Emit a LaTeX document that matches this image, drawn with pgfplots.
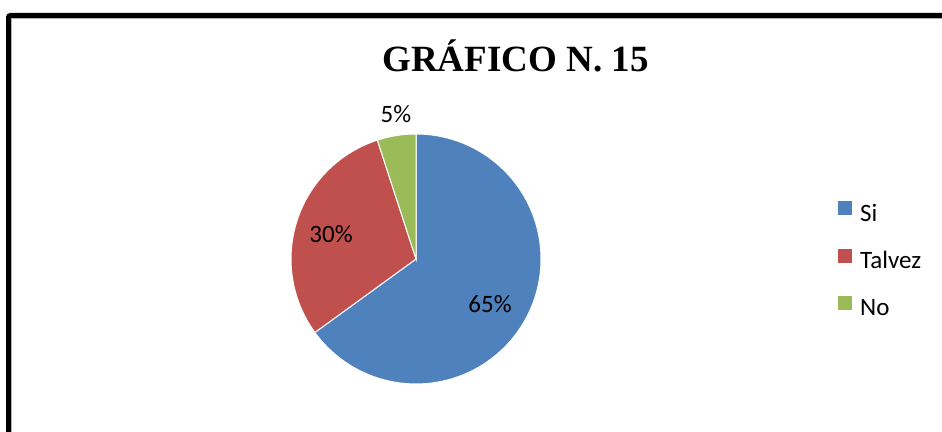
\documentclass[border=0pt]{standalone}
\usepackage{pgfplots}
\pgfplotsset{compat=1.18}
\usepackage{fontspec}
\setmainfont{Carlito}
\newfontfamily\titlefont{Liberation Serif}
\definecolor{cSi}{HTML}{4F81BD}
\definecolor{cTal}{HTML}{C0504D}
\definecolor{cNo}{HTML}{9BBB59}
% data (percent)
\def\vSi{65}
\def\vTal{30}
\def\vNo{5}
\pgfmathsetmacro{\aA}{3.6*\vSi}
\pgfmathsetmacro{\aB}{3.6*(\vSi+\vTal)}
\pgfmathsetmacro{\aC}{3.6*(\vSi+\vTal+\vNo)}
\begin{document}
\begin{tikzpicture}
\useasboundingbox (0,0) rectangle (942pt,431pt);
\begin{axis}[
  at={(0,0)}, anchor=south west,
  scale only axis, width=942pt, height=431pt,
  xmin=0, xmax=942, ymin=0, ymax=431,
  hide axis, clip=false,
  legend style={at={(axis cs:837,231)}, anchor=north west, draw=none, fill=none,
    inner sep=0pt, row sep=24.5pt, column sep=7pt,
    font=\fontsize{25}{28}\selectfont,
    nodes={inner sep=0pt}},
  legend cell align=left,
  legend image code/.code={\fill[#1] (0pt,-2pt) rectangle (15pt,13pt);},
]
\addplot[fill=cSi, draw=white, line width=1pt, domain=0:\aA, samples=150]
  ({416+125*sin(x)},{172+125*cos(x)}) -- (axis cs:416,172) -- cycle;
\addlegendentry{Si}
\addplot[fill=cTal, draw=white, line width=1pt, domain=\aA:\aB, samples=80]
  ({416+125*sin(x)},{172+125*cos(x)}) -- (axis cs:416,172) -- cycle;
\addlegendentry{Talvez}
\addplot[fill=cNo, draw=white, line width=1pt, domain=\aB:\aC, samples=20]
  ({416+125*sin(x)},{172+125*cos(x)}) -- (axis cs:416,172) -- cycle;
\addlegendentry{No}
\node[anchor=base, font=\fontsize{25}{28}\selectfont, inner sep=0pt] at (axis cs:490,118) {65\%};
\node[anchor=base, font=\fontsize{25}{28}\selectfont, inner sep=0pt] at (axis cs:331,188) {30\%};
\node[anchor=base, font=\fontsize{25}{28}\selectfont, inner sep=0pt] at (axis cs:396,308) {5\%};
\node[anchor=base, font=\titlefont\bfseries\fontsize{37}{40}\selectfont, inner sep=0pt] at (axis cs:515.5,359) {GRÁFICO N. 15};
\end{axis}
\begin{scope}
\clip (0,0) rectangle (942pt,431pt);
\draw[line width=5pt, rounded corners=2pt] (8.5pt,-20pt) -- (8.5pt,415.5pt) -- (960pt,415.5pt);
\draw[black!30, line width=0.6pt] (11.3pt,-20pt) -- (11.3pt,412.7pt) -- (960pt,412.7pt);
\end{scope}
\end{tikzpicture}
\end{document}
